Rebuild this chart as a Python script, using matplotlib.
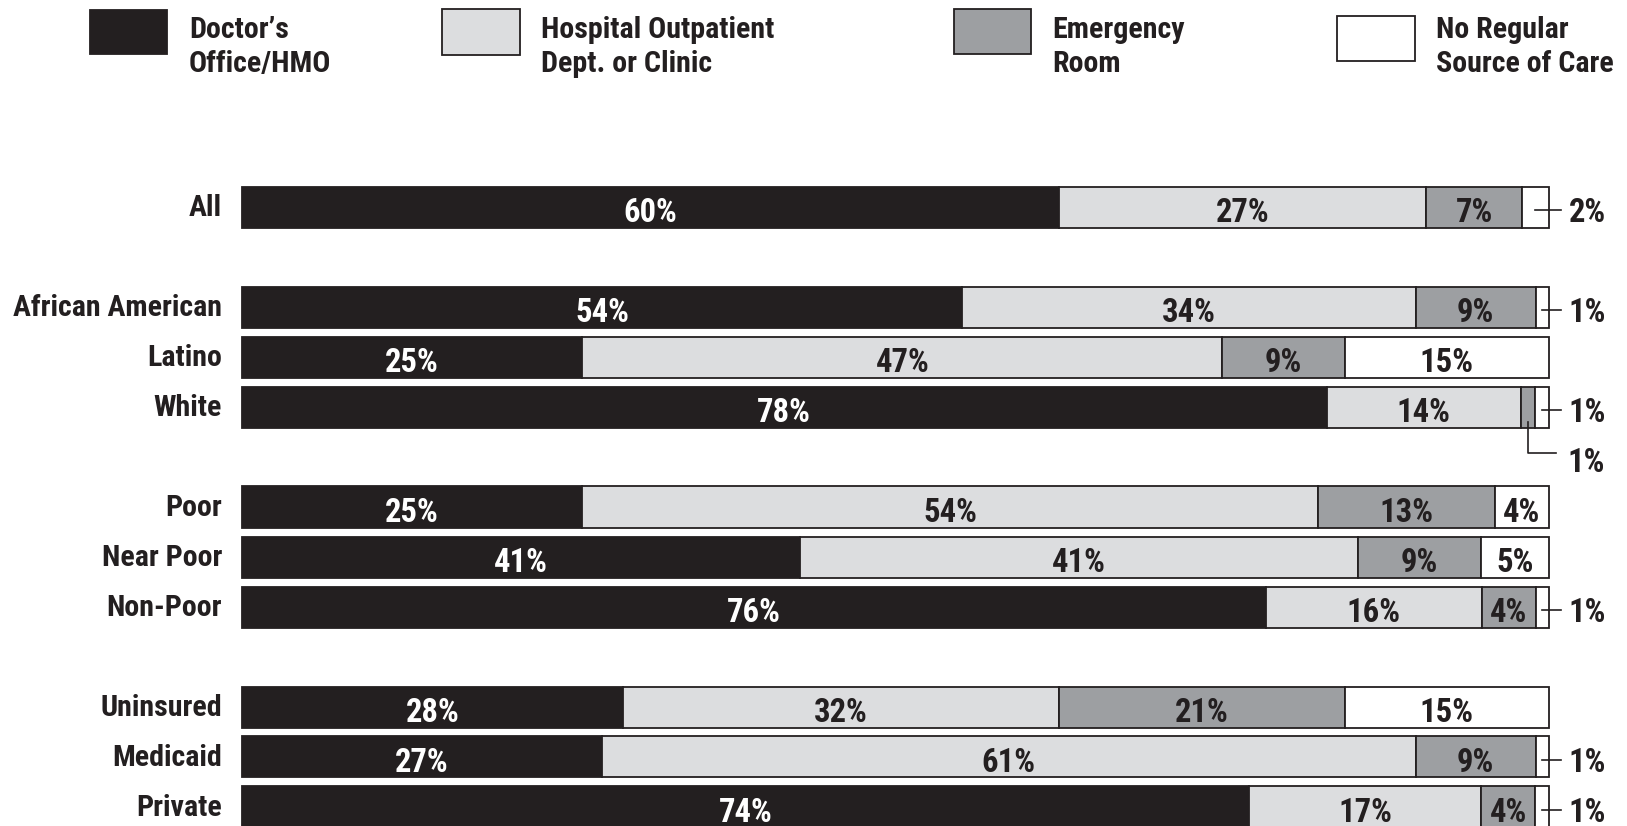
import numpy as np
import matplotlib.pyplot as plt
from matplotlib import font_manager as fm
from matplotlib.patches import Rectangle

# pick a condensed bold face similar to Helvetica Condensed
have = {f.name for f in fm.fontManager.ttflist}
for cand in ['Roboto Condensed', 'Archivo Narrow', 'PT Sans Narrow',
             'Liberation Sans Narrow', 'IBM Plex Sans Condensed',
             'Open Sans Condensed']:
    if cand in have:
        font = cand
        break
else:
    font = 'DejaVu Sans'
plt.rcParams['font.family'] = [font, 'DejaVu Sans']
plt.rcParams['font.weight'] = 'bold'

groups = ["All", "African American", "Latino", "White", "Poor", "Near Poor",
          "Non-Poor", "Uninsured", "Medicaid", "Private"]
rows = [0, 2, 3, 4, 6, 7, 8, 10, 11, 12]
sources = ["Doctor’s\nOffice/HMO", "Hospital Outpatient\nDept. or Clinic",
           "Emergency\nRoom", "No Regular\nSource of Care"]
doctor = [60, 54, 25, 78, 25, 41, 76, 28, 27, 74]
hospital = [27, 34, 47, 14, 54, 41, 16, 32, 61, 17]
emergency = [7, 9, 9, 1, 13, 9, 4, 21, 9, 4]
no_regular = [2, 1, 15, 1, 4, 5, 1, 15, 1, 1]

ink = '#231f20'
colors = [ink, '#dcdddf', '#9d9fa2', '#ffffff']
txt_colors = ['white', ink, ink, ink]
FS = 21.6     # row labels / legend
FS_BAR = 23.5  # percent labels

fig = plt.figure(figsize=(16.27, 8.26), dpi=100)
W, H = 1627, 826
x0, x1 = 242, 1549
ax = fig.add_axes([x0 / W, 0, (x1 - x0) / W, 676 / H])
ax.set_xlim(0, 100)
ax.set_ylim(12.38, -1.14)
ax.axis('off')

data = np.array([doctor, hospital, emergency, no_regular], dtype=float)
shares = data / data.sum(axis=0) * 100
px = (x1 - x0) / 100.0

for i, r in enumerate(rows):
    left = 0
    for k in range(4):
        w = shares[k, i]
        ax.barh(r, w, left=left, height=0.82, color=colors[k],
                edgecolor=ink, linewidth=1.3, clip_on=False)
        val = int(data[k, i])
        mid = left + w / 2
        if val >= 3:
            ax.text(mid, r + 0.12, f"{val}%", ha='center', va='center',
                    fontsize=FS_BAR, color=txt_colors[k])
        elif k == 3:
            ax.plot([mid, 100 + 0.9], [r + 0.05, r + 0.05], color=ink, lw=1.2,
                    clip_on=False)
            ax.text(100 + 1.5, r + 0.12, f"{val}%", ha='left', va='center',
                    fontsize=FS_BAR, color=ink, clip_on=False)
        else:
            ax.plot([mid, mid, 100 + 0.5], [r + 0.3, r + 0.92, r + 0.92],
                    color=ink, lw=1.2, clip_on=False)
            ax.text(100 + 1.4, r + 1.12, f"{val}%", ha='left', va='center',
                    fontsize=FS_BAR, color=ink, clip_on=False)
        left += w
    ax.text(-20 / px, r + 0.02, groups[i], ha='right', va='center', fontsize=FS,
            color=ink, clip_on=False)

# legend drawn in pixel space on an overlay axes
lax = fig.add_axes([0, 0, 1, 1], zorder=-1)
lax.set_xlim(0, W)
lax.set_ylim(H, 0)
lax.axis('off')
patches = [(90, 10, 167, 54), (442, 9, 520, 55), (954, 9, 1031, 54),
           (1337, 16, 1415, 61)]
text_x = [189, 541, 1052, 1436]
for k in range(4):
    a, b, c, d = patches[k]
    lax.add_patch(Rectangle((a, b), c - a, d - b, facecolor=colors[k],
                            edgecolor=ink, linewidth=1.3))
    l1, l2 = sources[k].split('\n')
    lax.text(text_x[k], 30, l1, ha='left', va='center', fontsize=FS, color=ink)
    lax.text(text_x[k], 64, l2, ha='left', va='center', fontsize=FS, color=ink)

fig.savefig('out.png', dpi=100)
